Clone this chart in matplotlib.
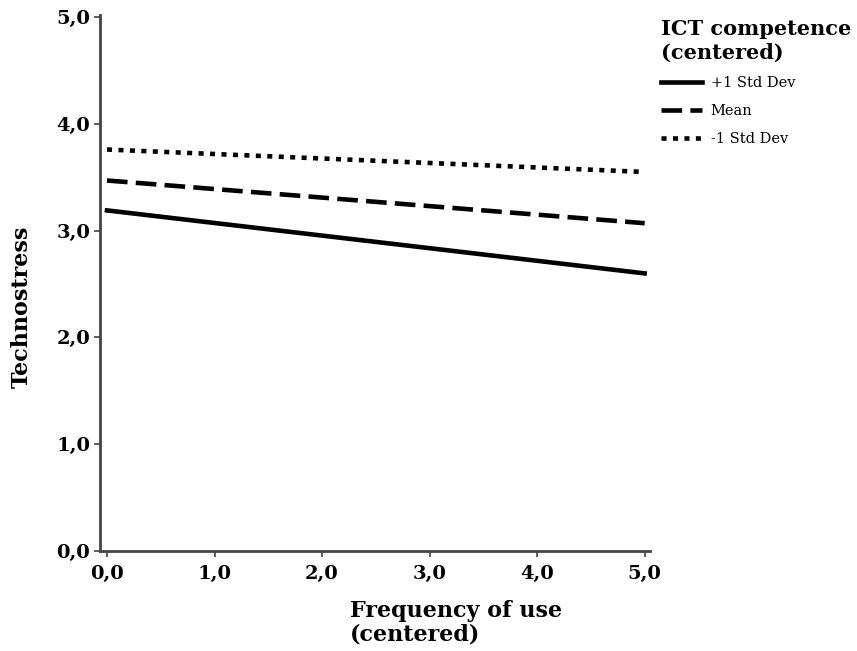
import numpy as np
import matplotlib.pyplot as plt

# Simple slopes: technostress vs frequency of use, by ICT competence level
x_vals = [0.0, 5.0]
plus_sd = [3.19, 2.60]
mean_vals = [3.47, 3.07]
minus_sd = [3.76, 3.55]
labels = ['+1 Std Dev', 'Mean', '-1 Std Dev']
ticks = [0, 1, 2, 3, 4, 5]

serif = ['DejaVu Serif']
plt.rcParams['font.family'] = serif

fig = plt.figure(figsize=(8.57, 6.51), dpi=100)
ax = fig.add_axes([100/857, 1 - 551/651, 550/857, 536/651])

ax.plot(x_vals, plus_sd, color='black', lw=3.3, ls='-', label=labels[0])
ax.plot(x_vals, mean_vals, color='black', lw=3.3, ls=(0, (4.5, 1.8)), label=labels[1])
ax.plot(x_vals, minus_sd, color='black', lw=3.3, ls=(0, (1.1, 1.4)), label=labels[2])

ax.set_xlim(-0.065, 5.05)
ax.set_ylim(0, 5.02)
ax.set_xticks(ticks)
ax.set_yticks(ticks)
ax.set_xticklabels([f'{t},0' for t in ticks], fontsize=14, fontweight='bold')
ax.set_yticklabels([f'{t},0' for t in ticks], fontsize=14, fontweight='bold')
ax.tick_params(axis='y', length=4, width=1.2, color='#444444', pad=3)
ax.tick_params(axis='x', length=4, width=1.2, color='#444444', pad=6)

for s in ['top', 'right']:
    ax.spines[s].set_visible(False)
for s in ['left', 'bottom']:
    ax.spines[s].set_linewidth(2)
    ax.spines[s].set_color('#444444')

fig.text(350/857, 1 - 645/651, 'Frequency of use\n(centered)', ha='left', va='bottom',
         fontsize=16, fontweight='bold', multialignment='left', linespacing=1.05)
fig.text(22/857, 1 - 307/651, 'Technostress', rotation=90, ha='center', va='center',
         fontsize=16, fontweight='bold')

leg = ax.legend(loc='upper left', bbox_to_anchor=(648/857, 1 - 6/651),
                bbox_transform=fig.transFigure, frameon=False,
                title='ICT competence\n(centered)', fontsize=10.5,
                handlelength=2.8, handletextpad=0.6, labelspacing=0.95)
leg.get_title().set_fontsize(15)
leg.get_title().set_fontweight('bold')
leg._legend_box.align = 'left'

fig.savefig('out.png', dpi=100)
